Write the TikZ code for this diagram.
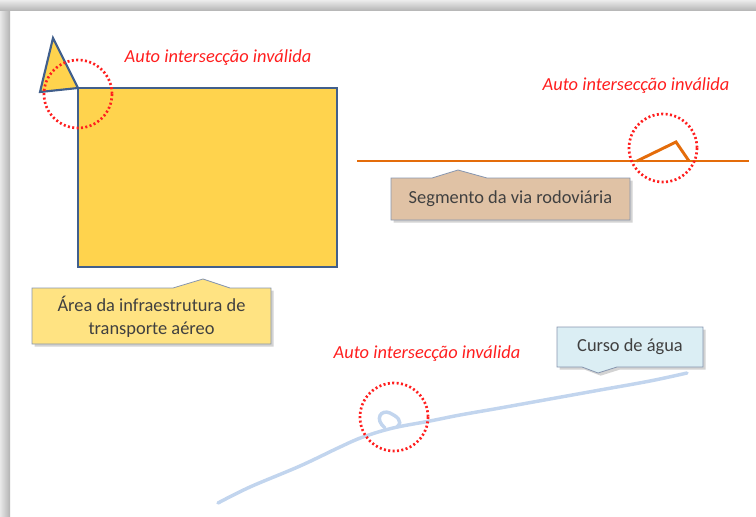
\documentclass[tikz,border=0pt]{standalone}
\usepackage{fontspec}
\setmainfont{Carlito}
\usepackage{xcolor}
\usepackage{tikz}
\usetikzlibrary{shadows}
\definecolor{gold}{RGB}{255,211,77}
\definecolor{edgeblue}{RGB}{65,95,140}
\definecolor{roadorange}{RGB}{228,108,10}
\definecolor{waterblue}{RGB}{194,213,238}
\definecolor{alertred}{RGB}{255,30,30}
\definecolor{tanfill}{RGB}{224,194,165}
\definecolor{paleyellow}{RGB}{255,227,130}
\definecolor{paleblue}{RGB}{219,238,244}
\definecolor{boxedge}{RGB}{135,150,175}
\definecolor{ink}{RGB}{64,64,64}

\begin{document}
\begin{tikzpicture}[
  x=0.75pt, y=-0.75pt,
  area/.style={fill=gold, draw=edgeblue, line width=1.6pt},
  road/.style={draw=roadorange, line width=2.2pt},
  water/.style={draw=waterblue, line width=2.6pt, line cap=round},
  badspot/.style={draw=alertred, line width=2pt, dash pattern=on 1.5pt off 1.8pt},
  badlabel/.style={font=\itshape\fontsize{13.8}{15}\selectfont, text=alertred, inner sep=0pt},
  callout/.style={draw=boxedge, line width=0.6pt, drop shadow={opacity=0.35, shadow xshift=2pt, shadow yshift=-2pt}},
  calltext/.style={font=\fontsize{13.8}{17}\selectfont, text=ink, align=center, inner sep=0pt}
]
\useasboundingbox (0,0) rectangle (756,517);

% Page shadow
\shade[left color=gray!18, right color=gray!60] (0,0) rectangle (10,517);
\shade[top color=gray!15, bottom color=gray!60] (0,0) rectangle (756,11);

% Airport area (polygon with a spike)
\begin{scope}
  \coordinate (A1) at (78,88);
  \coordinate (A2) at (337,88);
  \coordinate (A3) at (337,267);
  \coordinate (A4) at (78,267);
  \draw[area] (A1) -- (A2) -- (A3) -- (A4) -- cycle;
  \draw[area] (53,38) -- (40,92) -- (A1) -- cycle;
  \draw[badspot] (78,94) circle (34);
  \node[badlabel] (lblArea) at (218,58) {Auto intersecção inválida};

  \path[callout, fill=paleyellow] (32,288) -- (173,288) -- (203,279) -- (230,288)
    -- (271,288) -- (271,344) -- (32,344) -- cycle;
  \node[calltext] (areaText) at (151.5,317) {Área da infraestrutura de\\transporte aéreo};
\end{scope}

% Road segment
\begin{scope}
  \coordinate (R1) at (357,161);
  \coordinate (R2) at (749,161);
  \draw[road] (R1) -- (R2);
  \draw[road] (637,161) -- (676,142) -- (689,161);
  \draw[badspot] (663,148) circle (34);
  \node[badlabel] (lblRoad) at (636,86) {Auto intersecção inválida};

  \path[callout, fill=tanfill] (391,178) -- (432,178) -- (458,170) -- (487,178)
    -- (630,178) -- (630,220) -- (391,220) -- cycle;
  \node[calltext] (roadText) at (510.5,199) {Segmento da via rodoviária};
\end{scope}

% Watercourse
\begin{scope}
  \draw[water] plot[smooth, tension=0.6] coordinates {(218,503) (250,487) (300,466) (340,447)
    (363,437) (393,428) (430,421) (460,415) (500,408) (550,399) (600,390) (650,381) (687,373)};
  \draw[water] (385,428) .. controls (374,419) and (381,409) .. (390,413)
    .. controls (396,416) and (404,421) .. (397,427);
  \draw[badspot] (394,417) circle (34);
  \node[badlabel] (lblWater) at (427,354) {Auto intersecção inválida};

  \path[callout, fill=paleblue] (557,327) -- (703,327) -- (703,367) -- (617,367)
    -- (598,373) -- (582,367) -- (557,367) -- cycle;
  \node[calltext] (waterText) at (630,347) {Curso de água};
\end{scope}

\end{tikzpicture}
\end{document}
